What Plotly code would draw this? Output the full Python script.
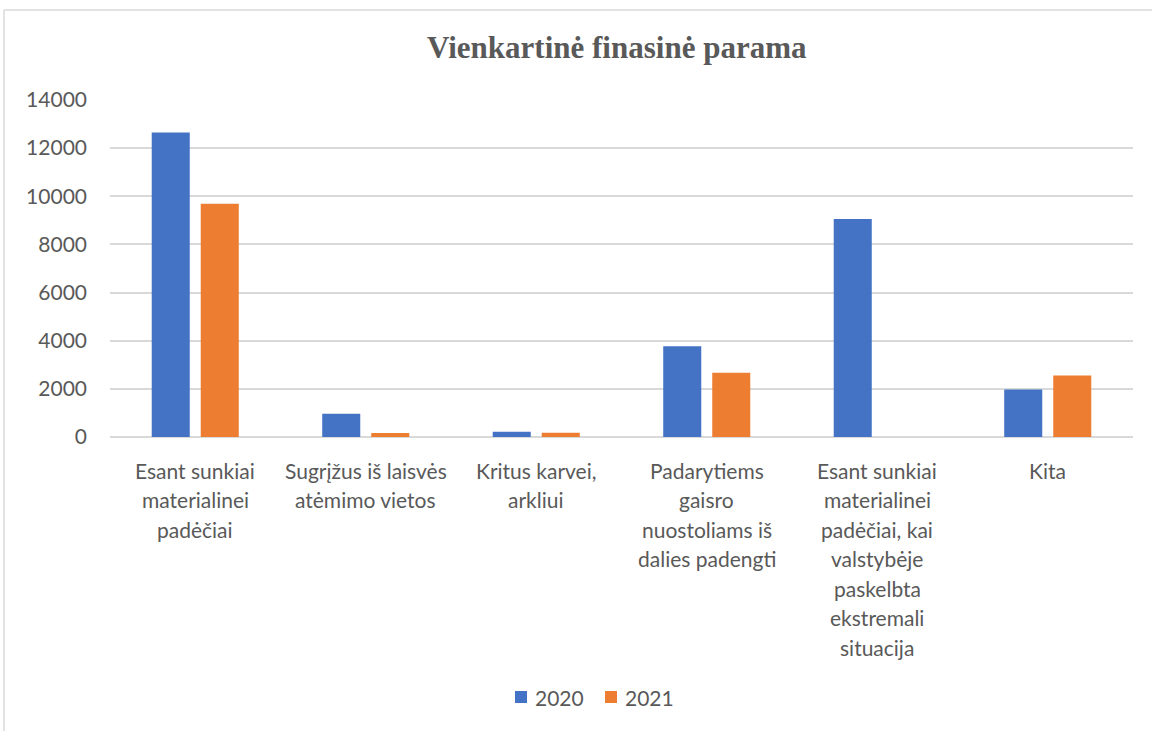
import plotly.graph_objects as go

# Category labels (one list of lines per category)
category_lines = [
    ["Esant sunkiai", "materialinei", "padėčiai"],
    ["Sugrįžus iš laisvės", "atėmimo vietos"],
    ["Kritus karvei,", "arkliui"],
    ["Padarytiems", "gaisro", "nuostoliams iš", "dalies padengti"],
    ["Esant sunkiai", "materialinei", "padėčiai, kai", "valstybėje",
     "paskelbta", "ekstremali", "situacija"],
    ["Kita"],
]
categories = [" ".join(lines) for lines in category_lines]

series_names = ["2020", "2021"]
values_2020 = [12650, 970, 220, 3770, 9060, 1970]
values_2021 = [9690, 170, 180, 2670, 0, 2560]
series_colors = ["#4472C4", "#ED7D31"]

y_ticks = [0, 2000, 4000, 6000, 8000, 10000, 12000, 14000]
y_tick_text = [str(v) for v in y_ticks]

W, H = 1152, 731
L, R, T, B = 110, 19, 100, 294
plot_w = W - L - R
plot_h = H - T - B

text_color = "#595959"
label_font = dict(family="Lato, Open Sans, sans-serif", size=21, color=text_color)


def px_x(px):
    return (px - L) / plot_w


def px_y(px):
    return (T + plot_h - px) / plot_h


fig = go.Figure()
for name, vals, col in zip(series_names, [values_2020, values_2021], series_colors):
    fig.add_trace(go.Bar(name=name, x=categories, y=vals,
                         marker=dict(color=col, line=dict(width=0))))

annotations = []
shapes = []

# Multi-line category labels, one annotation per line
line_step = 29.5
first_line_px = 470
for i, lines in enumerate(category_lines):
    for j, text in enumerate(lines):
        annotations.append(dict(
            x=i, xref="x", y=px_y(first_line_px + j * line_step), yref="paper",
            text=text, showarrow=False, xanchor="center", yanchor="middle",
            font=label_font,
        ))

# Chart title
annotations.append(dict(
    x=px_x(617), xref="paper", y=px_y(47), yref="paper",
    text="<b>Vienkartinė finasinė parama</b>", showarrow=False,
    xanchor="center", yanchor="middle",
    font=dict(family="Liberation Serif, Times New Roman, serif", size=31, color=text_color),
))

# Legend: colour square followed by the series name
legend_y = 697
legend_items_px = [515, 605]
for name, col, x0 in zip(series_names, series_colors, legend_items_px):
    shapes.append(dict(type="rect", xref="paper", yref="paper",
                       x0=px_x(x0), x1=px_x(x0 + 12),
                       y0=px_y(legend_y + 6), y1=px_y(legend_y - 6),
                       fillcolor=col, line=dict(width=0)))
    annotations.append(dict(x=px_x(x0 + 18), xref="paper", y=px_y(legend_y), yref="paper",
                            text=name, showarrow=False, xanchor="left", yanchor="middle",
                            font=label_font))

# Chart-area border (left and top edges)
bx = px_x(4)
by = px_y(10)
shapes += [
    dict(type="line", xref="paper", yref="paper", x0=bx, x1=bx, y0=-2, y1=by,
         line=dict(color="#d9d9d9", width=1.5)),
    dict(type="line", xref="paper", yref="paper", x0=bx, x1=2, y0=by, y1=by,
         line=dict(color="#d9d9d9", width=1.5)),
]

fig.update_layout(
    width=W, height=H,
    margin=dict(l=L, r=R, t=T, b=B, autoexpand=False),
    paper_bgcolor="white", plot_bgcolor="white",
    barmode="group", bargap=0.425, bargroupgap=0.224,
    showlegend=False,
    annotations=annotations,
    shapes=shapes,
    xaxis=dict(showticklabels=False, showgrid=False, showline=False, ticks=""),
    yaxis=dict(range=[0, 14000], tickvals=y_ticks, ticktext=y_tick_text, showgrid=True,
               gridcolor="#d9d9d9", gridwidth=1.5, zeroline=True,
               zerolinecolor="#d9d9d9", zerolinewidth=1.5, showline=False,
               ticks="", ticklabelstandoff=22, tickfont=label_font),
)

fig.write_html("out.html")
